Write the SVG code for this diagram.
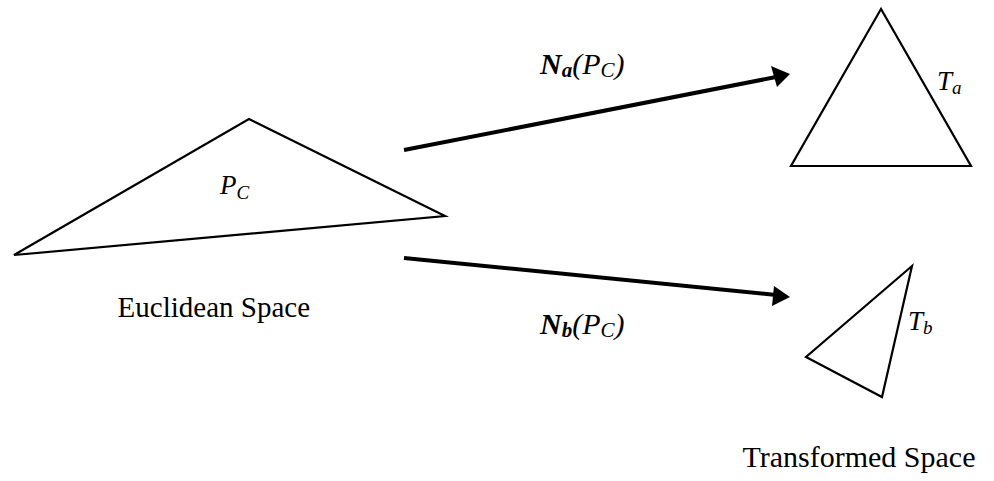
<svg xmlns="http://www.w3.org/2000/svg" width="994" height="481" viewBox="0 0 994 481">
<defs>
<style>
.tri{fill:#fff;stroke:#000;stroke-width:2.2;stroke-linejoin:miter}
.conn{stroke:#000;stroke-width:4;fill:none}
.head{fill:#000}
.lbl{font-family:"Liberation Serif","Times New Roman",serif;fill:#000}
.it{font-style:italic}
</style>
</defs>
<rect width="994" height="481" fill="#fff"/>
<g id="pc">
<polygon class="tri" points="14,255 249,119 445,216"/>
<text class="lbl it" x="220" y="194" font-size="27">P<tspan font-size="19" dy="5">C</tspan></text>
</g>
<g id="ta">
<polygon class="tri" points="881,9 791,166 971,166"/>
<text class="lbl it" x="937" y="90" font-size="27">T<tspan font-size="19" dy="4">a</tspan></text>
</g>
<g id="tb">
<polygon class="tri" points="912,266 806,357 882,397"/>
<text class="lbl it" x="908" y="330" font-size="27">T<tspan font-size="19" dy="4">b</tspan></text>
</g>
<g id="euclidean">
<text class="lbl" x="310" y="317" font-size="29" text-anchor="end">Euclidean Space</text>
</g>
<g id="transformed">
<text class="lbl" x="859" y="467" font-size="30" text-anchor="middle">Transformed Space</text>
</g>
<g id="connectors">
<line class="conn" x1="404" y1="150" x2="776" y2="77"/>
<polygon class="head" points="790,74 771,66 777,87"/>
<text class="lbl it" x="540" y="74" font-size="30"><tspan font-weight="bold">N<tspan font-size="21" dy="3">a</tspan></tspan><tspan dy="-3">(P</tspan><tspan font-size="21" dy="3">C</tspan><tspan dy="-3">)</tspan></text>
<line class="conn" x1="404" y1="258" x2="776" y2="295"/>
<polygon class="head" points="790,297 774,286 772,306"/>
<text class="lbl it" x="540" y="334" font-size="30"><tspan font-weight="bold">N<tspan font-size="21" dy="3">b</tspan></tspan><tspan dy="-3">(P</tspan><tspan font-size="21" dy="3">C</tspan><tspan dy="-3">)</tspan></text>
</g>
</svg>
